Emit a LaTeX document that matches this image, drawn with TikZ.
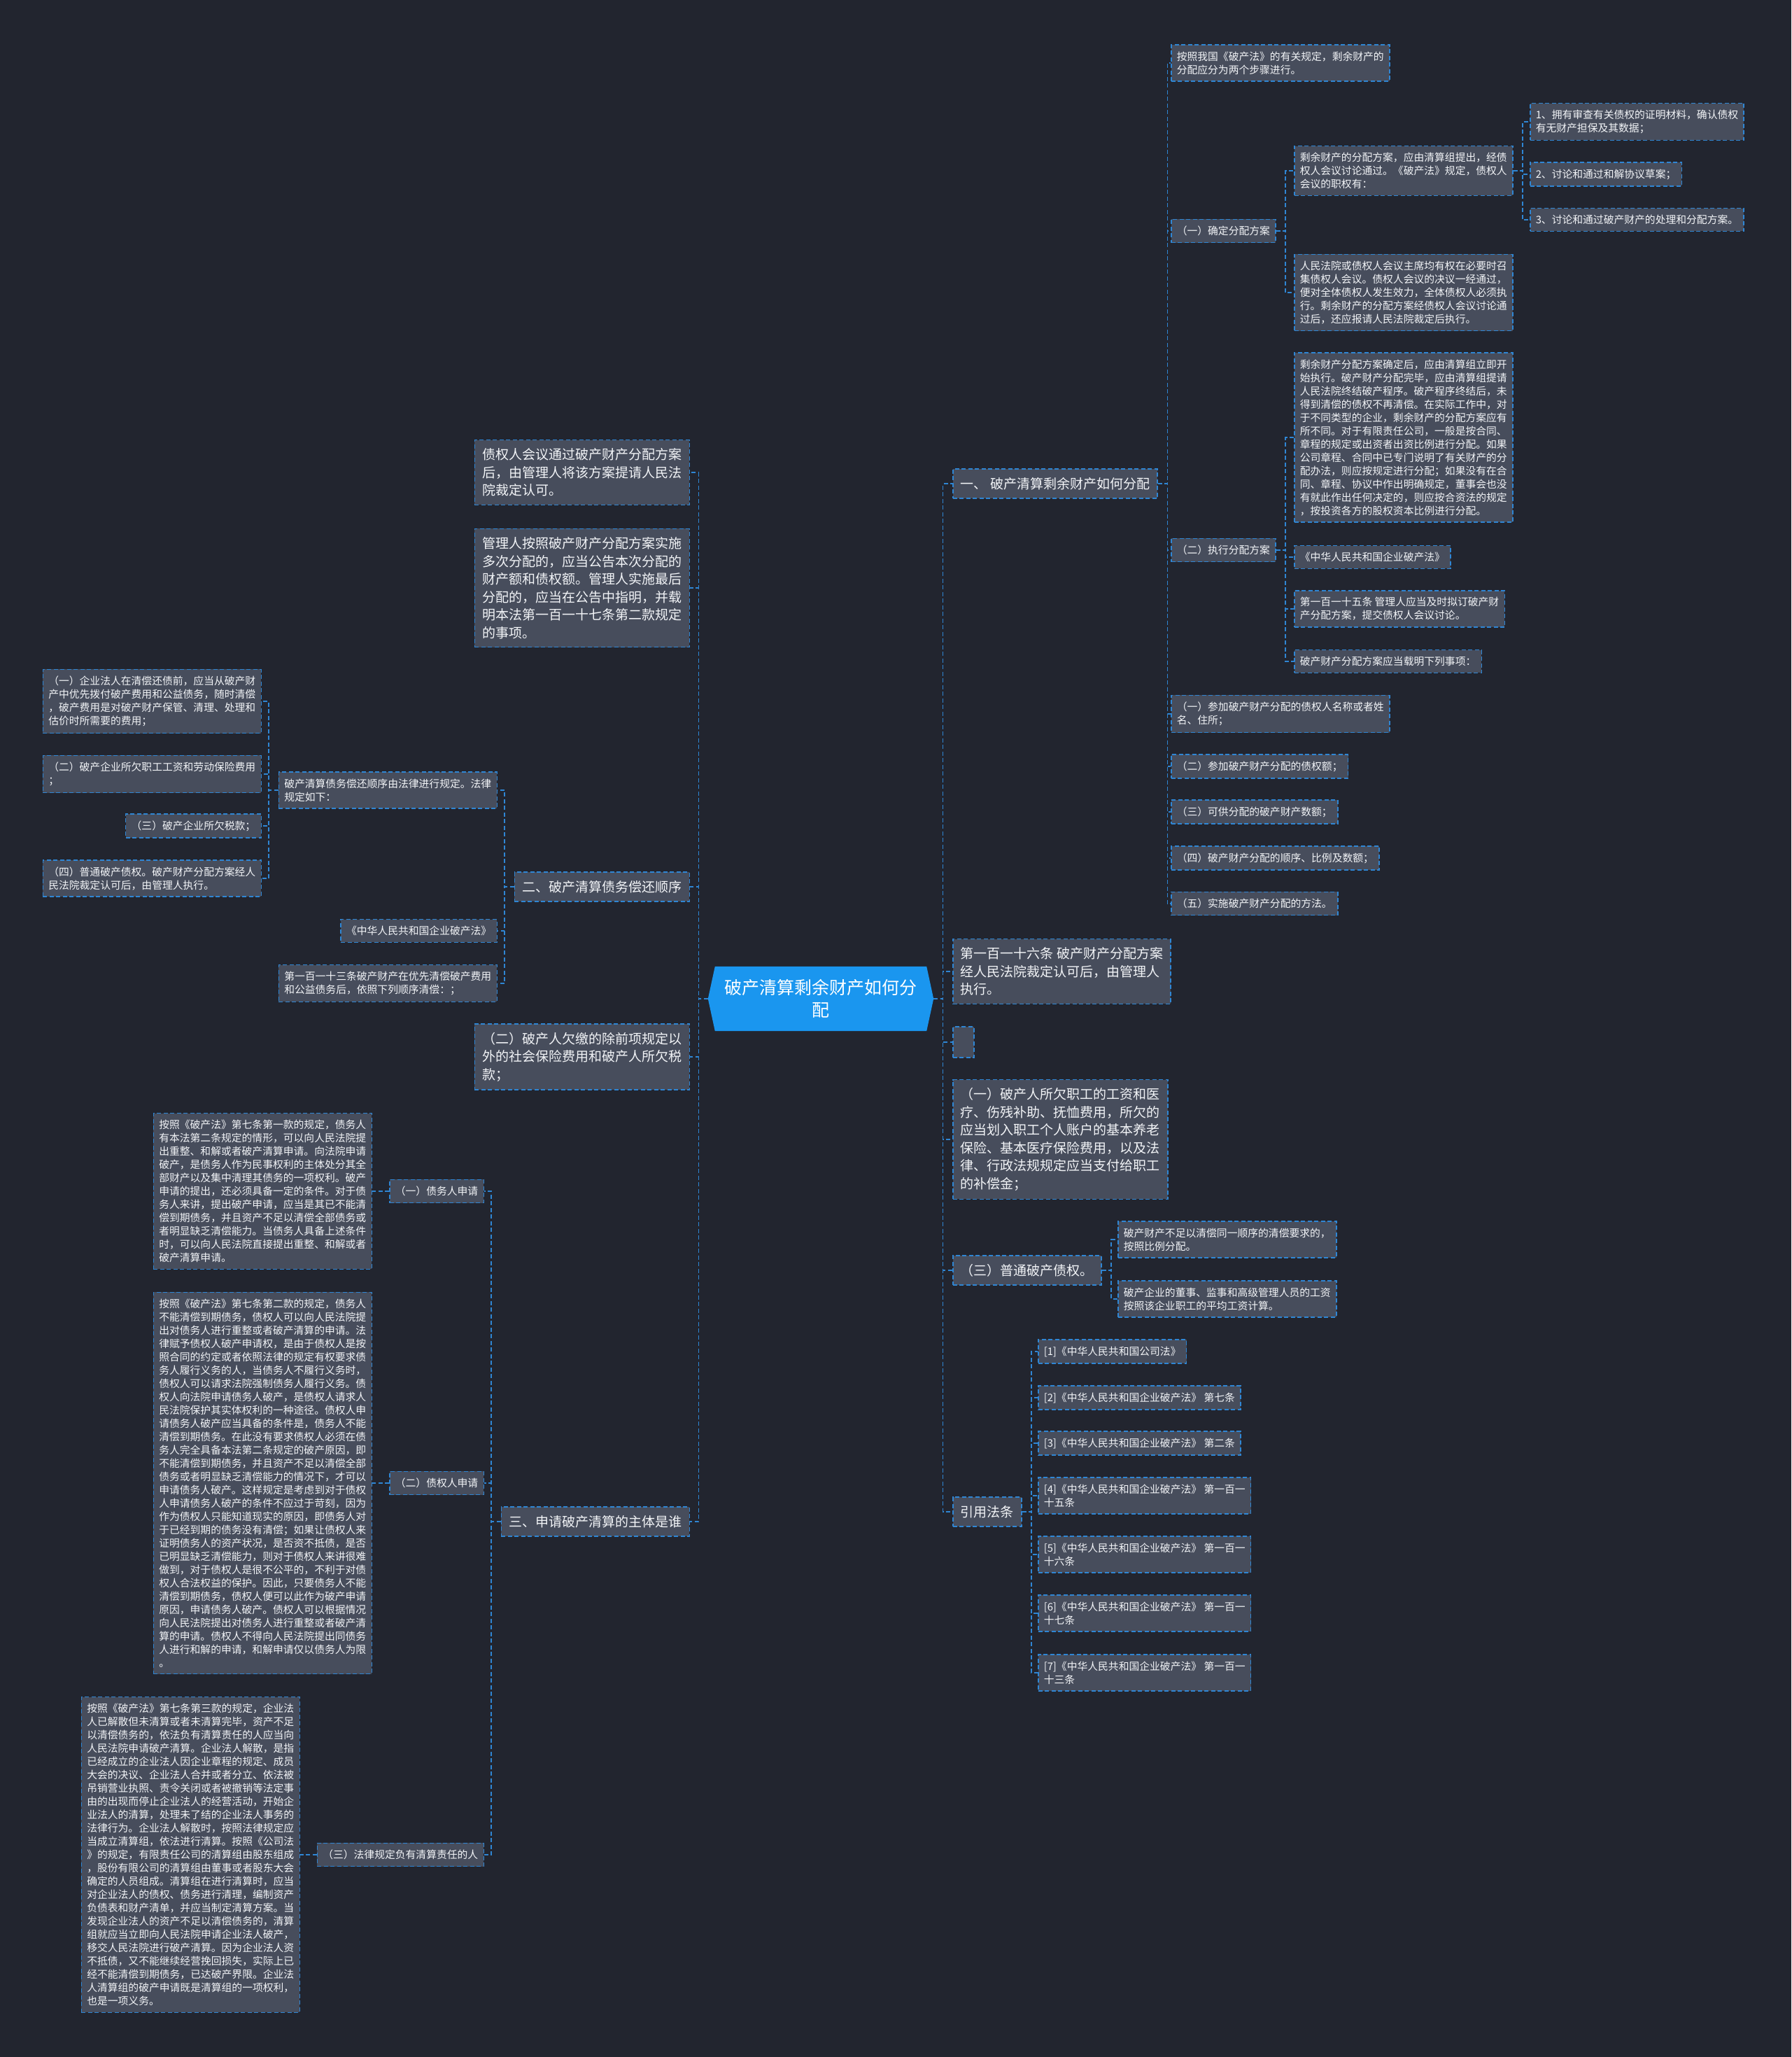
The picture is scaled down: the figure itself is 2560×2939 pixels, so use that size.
\documentclass[tikz,border=0pt]{standalone}
\usepackage{fontspec}
\setmainfont{Noto Sans CJK SC}
\usetikzlibrary{backgrounds}
\definecolor{pagebg}{HTML}{22252F}
\definecolor{boxfill}{HTML}{474D5C}
\definecolor{linkblue}{HTML}{2F86D4}
\definecolor{rootblue}{HTML}{1A96EF}
\definecolor{boxtext}{HTML}{F2F4F7}

\begin{document}
\begin{tikzpicture}[
    x=1pt, y=-1pt,
    every node/.style={text=boxtext},
    box/.style={rectangle, draw=linkblue, fill=boxfill, line width=1.5pt,
                dash pattern=on 6pt off 3.5pt, align=left,
                inner xsep=8pt, inner ysep=9.5pt,
                font=\fontsize{14.8}{19}\selectfont},
    bigbox/.style={box, inner xsep=11pt, inner ysep=12pt,
                   font=\fontsize{19}{25.5}\selectfont},
    rootbox/.style={rectangle, minimum width=322pt, minimum height=92pt,
                    inner sep=0pt, align=center, text=white,
                    font=\fontsize{25}{32}\selectfont},
    link/.style={draw=linkblue, line width=1.5pt, dash pattern=on 6pt off 3.5pt},
    toR/.style={to path={-- ++(13.5,0) |- (\tikztotarget) \tikztonodes}},
    toL/.style={to path={-- ++(-13.5,0) |- (\tikztotarget) \tikztonodes}}
]
    \useasboundingbox (0,0) rectangle (2560,2939);

    \node[rootbox] (root) at (1173,1427) {破产清算剩余财产如何分\\配};

    % right side
    \node[bigbox, anchor=west] (one) at (1361,691) {一、 破产清算剩余财产如何分配};
    \node[box, anchor=west] (steps) at (1673,90) {按照我国《破产法》的有关规定，剩余财产的\\分配应分为两个步骤进行。};
    \node[box, anchor=west] (fix) at (1673,330) {（一）确定分配方案};
    \node[box, anchor=west] (fixplan) at (1849,244) {剩余财产的分配方案，应由清算组提出，经债\\权人会议讨论通过。《破产法》规定，债权人\\会议的职权有：};
    \node[box, anchor=west] (pow1) at (2186,174) {1、拥有审查有关债权的证明材料，确认债权\\有无财产担保及其数据；};
    \node[box, anchor=west] (pow2) at (2186,249) {2、讨论和通过和解协议草案；};
    \node[box, anchor=west] (pow3) at (2186,314) {3、讨论和通过破产财产的处理和分配方案。};
    \node[box, anchor=west] (summon) at (1849,418) {人民法院或债权人会议主席均有权在必要时召\\集债权人会议。债权人会议的决议一经通过，\\便对全体债权人发生效力，全体债权人必须执\\行。剩余财产的分配方案经债权人会议讨论通\\过后，还应报请人民法院裁定后执行。};
    \node[box, anchor=west] (exec) at (1673,786) {（二）执行分配方案};
    \node[box, anchor=west] (execplan) at (1849,625) {剩余财产分配方案确定后，应由清算组立即开\\始执行。破产财产分配完毕，应由清算组提请\\人民法院终结破产程序。破产程序终结后，未\\得到清偿的债权不再清偿。在实际工作中，对\\于不同类型的企业，剩余财产的分配方案应有\\所不同。对于有限责任公司，一般是按合同、\\章程的规定或出资者出资比例进行分配。如果\\公司章程、合同中已专门说明了有关财产的分\\配办法，则应按规定进行分配；如果没有在合\\同、章程、协议中作出明确规定，董事会也没\\有就此作出任何决定的，则应按合资法的规定\\，按投资各方的股权资本比例进行分配。};
    \node[box, anchor=west] (execlaw) at (1849,796) {《中华人民共和国企业破产法》};
    \node[box, anchor=west] (art115) at (1849,870) {第一百一十五条 管理人应当及时拟订破产财\\产分配方案，提交债权人会议讨论。};
    \node[box, anchor=west] (items) at (1849,945) {破产财产分配方案应当载明下列事项：};
    \node[box, anchor=west] (it1) at (1673,1020) {（一）参加破产财产分配的债权人名称或者姓\\名、住所；};
    \node[box, anchor=west] (it2) at (1673,1095) {（二）参加破产财产分配的债权额；};
    \node[box, anchor=west] (it3) at (1673,1160) {（三）可供分配的破产财产数额；};
    \node[box, anchor=west] (it4) at (1673,1226) {（四）破产财产分配的顺序、比例及数额；};
    \node[box, anchor=west] (it5) at (1673,1291) {（五）实施破产财产分配的方法。};

    \node[bigbox, anchor=west] (art116) at (1361,1388) {第一百一十六条 破产财产分配方案\\经人民法院裁定认可后，由管理人\\执行。};
    \node[box, anchor=west, minimum width=30pt, minimum height=44pt, inner sep=0pt] (blank) at (1361,1489) {};
    \node[bigbox, anchor=west] (wage) at (1361,1628) {（一）破产人所欠职工的工资和医\\疗、伤残补助、抚恤费用，所欠的\\应当划入职工个人账户的基本养老\\保险、基本医疗保险费用，以及法\\律、行政法规规定应当支付给职工\\的补偿金；};
    \node[bigbox, anchor=west] (common) at (1361,1815) {（三）普通破产债权。};
    \node[box, anchor=west] (short) at (1597,1771) {破产财产不足以清偿同一顺序的清偿要求的，\\按照比例分配。};
    \node[box, anchor=west] (boss) at (1597,1856) {破产企业的董事、监事和高级管理人员的工资\\按照该企业职工的平均工资计算。};
    \node[bigbox, anchor=west] (cite) at (1361,2160) {引用法条};
    \node[box, anchor=west] (ref1) at (1483,1931) {[1]《中华人民共和国公司法》};
    \node[box, anchor=west] (ref2) at (1483,1997) {[2]《中华人民共和国企业破产法》 第七条};
    \node[box, anchor=west] (ref3) at (1483,2062) {[3]《中华人民共和国企业破产法》 第二条};
    \node[box, anchor=west] (ref4) at (1483,2137) {[4]《中华人民共和国企业破产法》 第一百一\\十五条};
    \node[box, anchor=west] (ref5) at (1483,2221) {[5]《中华人民共和国企业破产法》 第一百一\\十六条};
    \node[box, anchor=west] (ref6) at (1483,2305) {[6]《中华人民共和国企业破产法》 第一百一\\十七条};
    \node[box, anchor=west] (ref7) at (1483,2390) {[7]《中华人民共和国企业破产法》 第一百一\\十三条};

    % left side
    \node[bigbox, anchor=east] (court) at (986,675) {债权人会议通过破产财产分配方案\\后，由管理人将该方案提请人民法\\院裁定认可。};
    \node[bigbox, anchor=east] (multi) at (986,840) {管理人按照破产财产分配方案实施\\多次分配的，应当公告本次分配的\\财产额和债权额。管理人实施最后\\分配的，应当在公告中指明，并载\\明本法第一百一十七条第二款规定\\的事项。};
    \node[bigbox, anchor=east] (two) at (986,1267) {二、破产清算债务偿还顺序};
    \node[box, anchor=east] (order) at (711,1129) {破产清算债务偿还顺序由法律进行规定。法律\\规定如下：};
    \node[box, anchor=east] (ord1) at (374,1002) {（一）企业法人在清偿还债前，应当从破产财\\产中优先拨付破产费用和公益债务，随时清偿\\，破产费用是对破产财产保管、清理、处理和\\估价时所需要的费用；};
    \node[box, anchor=east] (ord2) at (374,1106) {（二）破产企业所欠职工工资和劳动保险费用\\；};
    \node[box, anchor=east] (ord3) at (374,1180) {（三）破产企业所欠税款；};
    \node[box, anchor=east] (ord4) at (374,1255) {（四）普通破产债权。破产财产分配方案经人\\民法院裁定认可后，由管理人执行。};
    \node[box, anchor=east] (lawbook) at (711,1330) {《中华人民共和国企业破产法》};
    \node[box, anchor=east] (art113) at (711,1405) {第一百一十三条破产财产在优先清偿破产费用\\和公益债务后，依照下列顺序清偿：；};
    \node[bigbox, anchor=east] (tax) at (986,1510) {（二）破产人欠缴的除前项规定以\\外的社会保险费用和破产人所欠税\\款；};
    \node[bigbox, anchor=east] (three) at (986,2174) {三、申请破产清算的主体是谁};
    \node[box, anchor=east] (debtor) at (692,1702) {（一）债务人申请};
    \node[box, anchor=east] (debtortxt) at (532,1702) {按照《破产法》第七条第一款的规定，债务人\\有本法第二条规定的情形，可以向人民法院提\\出重整、和解或者破产清算申请。向法院申请\\破产，是债务人作为民事权利的主体处分其全\\部财产以及集中清理其债务的一项权利。破产\\申请的提出，还必须具备一定的条件。对于债\\务人来讲，提出破产申请，应当是其已不能清\\偿到期债务，并且资产不足以清偿全部债务或\\者明显缺乏清偿能力。当债务人具备上述条件\\时，可以向人民法院直接提出重整、和解或者\\破产清算申请。};
    \node[box, anchor=east] (creditor) at (692,2119) {（二）债权人申请};
    \node[box, anchor=east] (credtxt) at (532,2119) {按照《破产法》第七条第二款的规定，债务人\\不能清偿到期债务，债权人可以向人民法院提\\出对债务人进行重整或者破产清算的申请。法\\律赋予债权人破产申请权，是由于债权人是按\\照合同的约定或者依照法律的规定有权要求债\\务人履行义务的人，当债务人不履行义务时，\\债权人可以请求法院强制债务人履行义务。债\\权人向法院申请债务人破产，是债权人请求人\\民法院保护其实体权利的一种途径。债权人申\\请债务人破产应当具备的条件是，债务人不能\\清偿到期债务。在此没有要求债权人必须在债\\务人完全具备本法第二条规定的破产原因，即\\不能清偿到期债务，并且资产不足以清偿全部\\债务或者明显缺乏清偿能力的情况下，才可以\\申请债务人破产。这样规定是考虑到对于债权\\人申请债务人破产的条件不应过于苛刻，因为\\作为债权人只能知道现实的原因，即债务人对\\于已经到期的债务没有清偿；如果让债权人来\\证明债务人的资产状况，是否资不抵债，是否\\已明显缺乏清偿能力，则对于债权人来讲很难\\做到，对于债权人是很不公平的，不利于对债\\权人合法权益的保护。因此，只要债务人不能\\清偿到期债务，债权人便可以此作为破产申请\\原因，申请债务人破产。债权人可以根据情况\\向人民法院提出对债务人进行重整或者破产清\\算的申请。债权人不得向人民法院提出同债务\\人进行和解的申请，和解申请仅以债务人为限\\。};
    \node[box, anchor=east] (liq) at (692,2650) {（三）法律规定负有清算责任的人};
    \node[box, anchor=east] (liqtxt) at (429,2650) {按照《破产法》第七条第三款的规定，企业法\\人已解散但未清算或者未清算完毕，资产不足\\以清偿债务的，依法负有清算责任的人应当向\\人民法院申请破产清算。企业法人解散，是指\\已经成立的企业法人因企业章程的规定、成员\\大会的决议、企业法人合并或者分立、依法被\\吊销营业执照、责令关闭或者被撤销等法定事\\由的出现而停止企业法人的经营活动，开始企\\业法人的清算，处理未了结的企业法人事务的\\法律行为。企业法人解散时，按照法律规定应\\当成立清算组，依法进行清算。按照《公司法\\》的规定，有限责任公司的清算组由股东组成\\，股份有限公司的清算组由董事或者股东大会\\确定的人员组成。清算组在进行清算时，应当\\对企业法人的债权、债务进行清理，编制资产\\负债表和财产清单，并应当制定清算方案。当\\发现企业法人的资产不足以清偿债务的，清算\\组就应当立即向人民法院申请企业法人破产，\\移交人民法院进行破产清算。因为企业法人资\\不抵债，又不能继续经营挽回损失，实际上已\\经不能清偿到期债务，已达破产界限。企业法\\人清算组的破产申请既是清算组的一项权利，\\也是一项义务。};

    % connectors, right
    \draw[link] (root.east) to[toR] (one.west);
    \draw[link] (root.east) to[toR] (art116.west);
    \draw[link] (root.east) to[toR] (blank.west);
    \draw[link] (root.east) to[toR] (wage.west);
    \draw[link] (root.east) to[toR] (common.west);
    \draw[link] (root.east) to[toR] (cite.west);
    \draw[link] (one.east) to[toR] (steps.west);
    \draw[link] (one.east) to[toR] (fix.west);
    \draw[link] (one.east) to[toR] (exec.west);
    \draw[link] (one.east) to[toR] (it1.west);
    \draw[link] (one.east) to[toR] (it2.west);
    \draw[link] (one.east) to[toR] (it3.west);
    \draw[link] (one.east) to[toR] (it4.west);
    \draw[link] (one.east) to[toR] (it5.west);
    \draw[link] (fix.east) to[toR] (fixplan.west);
    \draw[link] (fix.east) to[toR] (summon.west);
    \draw[link] (fixplan.east) to[toR] (pow1.west);
    \draw[link] (fixplan.east) to[toR] (pow2.west);
    \draw[link] (fixplan.east) to[toR] (pow3.west);
    \draw[link] (exec.east) to[toR] (execplan.west);
    \draw[link] (exec.east) to[toR] (execlaw.west);
    \draw[link] (exec.east) to[toR] (art115.west);
    \draw[link] (exec.east) to[toR] (items.west);
    \draw[link] (common.east) to[toR] (short.west);
    \draw[link] (common.east) to[toR] (boss.west);
    \draw[link] (cite.east) to[toR] (ref1.west);
    \draw[link] (cite.east) to[toR] (ref2.west);
    \draw[link] (cite.east) to[toR] (ref3.west);
    \draw[link] (cite.east) to[toR] (ref4.west);
    \draw[link] (cite.east) to[toR] (ref5.west);
    \draw[link] (cite.east) to[toR] (ref6.west);
    \draw[link] (cite.east) to[toR] (ref7.west);

    % connectors, left
    \draw[link] (root.west) to[toL] (court.east);
    \draw[link] (root.west) to[toL] (multi.east);
    \draw[link] (root.west) to[toL] (two.east);
    \draw[link] (root.west) to[toL] (tax.east);
    \draw[link] (root.west) to[toL] (three.east);
    \draw[link] (two.west) to[toL] (order.east);
    \draw[link] (two.west) to[toL] (lawbook.east);
    \draw[link] (two.west) to[toL] (art113.east);
    \draw[link] (order.west) to[toL] (ord1.east);
    \draw[link] (order.west) to[toL] (ord2.east);
    \draw[link] (order.west) to[toL] (ord3.east);
    \draw[link] (order.west) to[toL] (ord4.east);
    \draw[link] (three.west) to[toL] (debtor.east);
    \draw[link] (three.west) to[toL] (creditor.east);
    \draw[link] (three.west) to[toL] (liq.east);
    \draw[link] (debtor.west) to[toL] (debtortxt.east);
    \draw[link] (creditor.west) to[toL] (credtxt.east);
    \draw[link] (liq.west) to[toL] (liqtxt.east);

    \begin{scope}[on background layer]
        \fill[pagebg] (0,0) rectangle (2560,2939);
        \fill[rootblue] (root.west) -- ([xshift=10pt]root.north west) -- ([xshift=-10pt]root.north east)
            -- (root.east) -- ([xshift=-10pt]root.south east) -- ([xshift=10pt]root.south west) -- cycle;
    \end{scope}
\end{tikzpicture}
\end{document}
